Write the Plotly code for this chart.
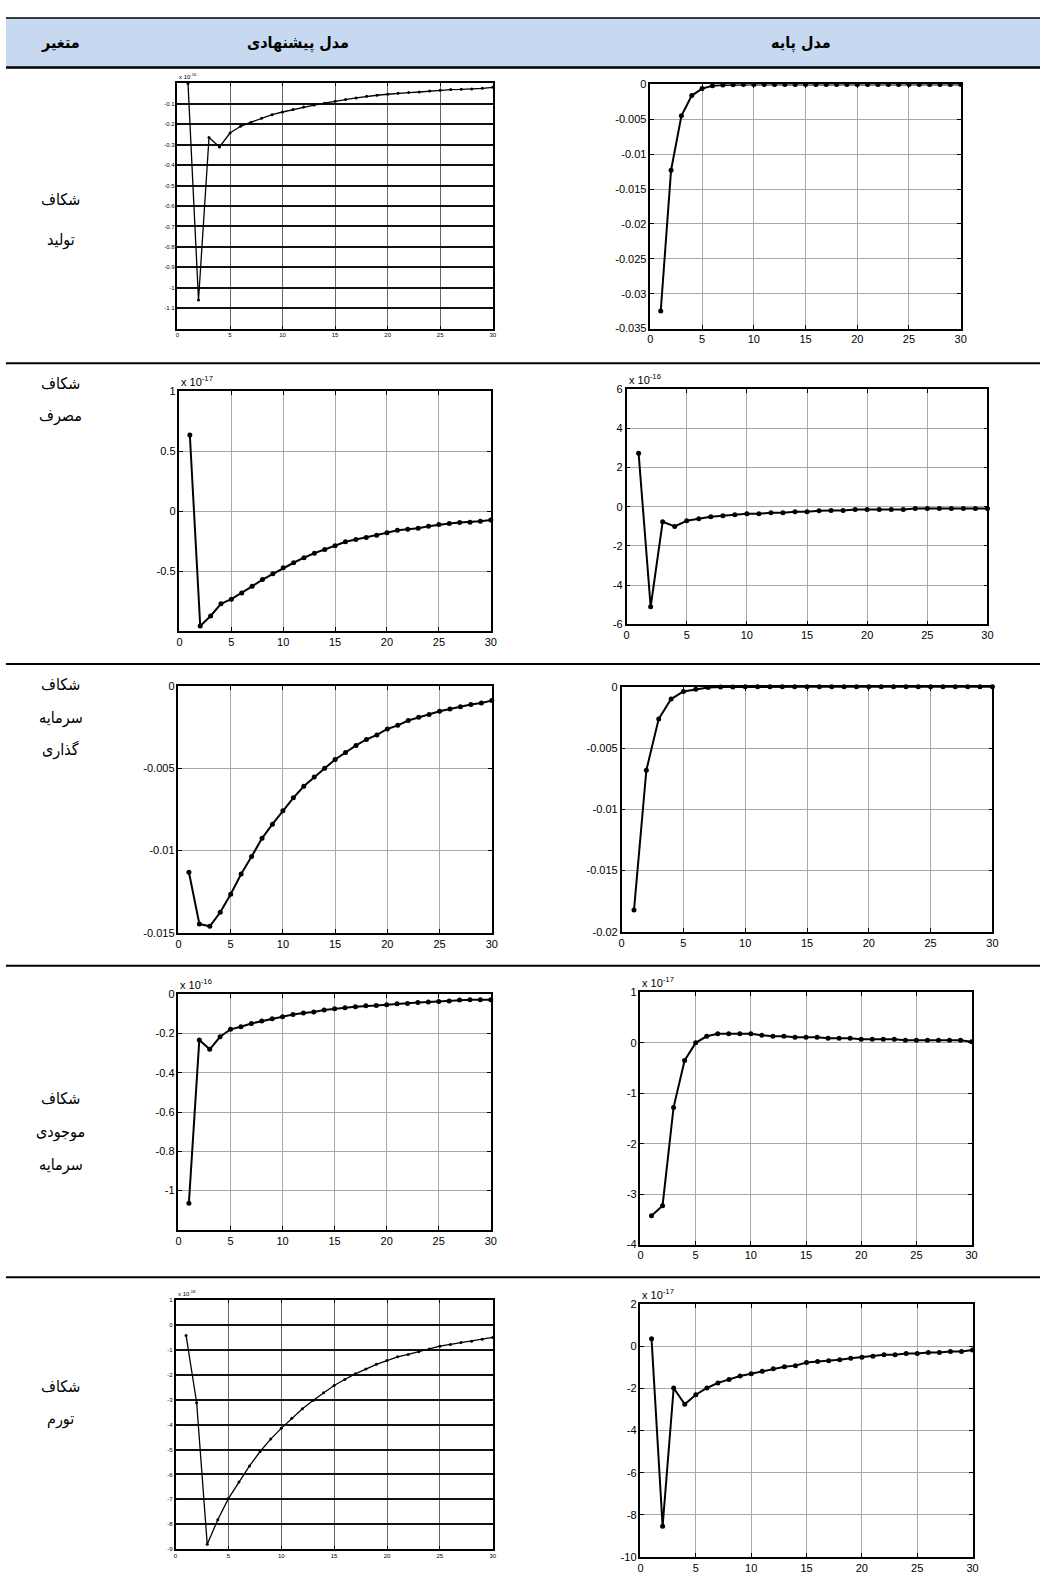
import plotly.graph_objects as go

W, H = 1046, 1577

# ---------------- data ----------------
steps = list(range(1, 31))

header_labels = ["متغیر", "مدل پیشنهادی", "مدل پایه"]
row_labels = [
    ["شکاف", "تولید"],
    ["شکاف", "مصرف"],
    ["شکاف", "سرمایه", "گذاری"],
    ["شکاف", "موجودی", "سرمایه"],
    ["شکاف", "تورم"],
]

output_proposed = [0.0, -1.06, -0.265, -0.311, -0.243, -0.21, -0.19, -0.17, -0.153, -0.14,
                   -0.128, -0.116, -0.106, -0.097, -0.087, -0.079, -0.071, -0.063, -0.058, -0.053,
                   -0.048, -0.045, -0.042, -0.037, -0.034, -0.030, -0.029, -0.027, -0.024, -0.019]
output_base = [-0.0325, -0.0123, -0.0045, -0.0016, -0.0006, -0.0002, -0.0001, -0.00004, -0.00002, -0.00001,
               0.0, 0.0, 0.0, 0.0, 0.0, 0.0, 0.0, 0.0, 0.0, 0.0,
               0.0, 0.0, 0.0, 0.0, 0.0, 0.0, 0.0, 0.0, 0.0, 0.0]
consumption_proposed = [0.634, -0.957, -0.873, -0.772, -0.733, -0.682, -0.626, -0.57, -0.522, -0.472,
                        -0.43, -0.388, -0.35, -0.32, -0.289, -0.255, -0.236, -0.219, -0.2, -0.18,
                        -0.16, -0.151, -0.143, -0.126, -0.112, -0.104, -0.095, -0.092, -0.084, -0.073]
consumption_base = [2.72, -5.11, -0.77, -1.01, -0.72, -0.62, -0.51, -0.46, -0.41, -0.36,
                    -0.36, -0.31, -0.31, -0.26, -0.26, -0.21, -0.2, -0.2, -0.15, -0.15,
                    -0.15, -0.15, -0.15, -0.1, -0.1, -0.1, -0.1, -0.1, -0.1, -0.1]
investment_proposed = [-0.01132, -0.01446, -0.0146, -0.01375, -0.01265, -0.01142, -0.01037, -0.00926, -0.0084, -0.00759,
                       -0.0068, -0.0061, -0.00554, -0.005, -0.00447, -0.00405, -0.00362, -0.00326, -0.00298, -0.00262,
                       -0.0024, -0.00211, -0.00191, -0.00175, -0.00155, -0.00141, -0.00127, -0.00113, -0.00105, -0.0009]
investment_base = [-0.01822, -0.00681, -0.00262, -0.001, -0.00038, -0.0002, -0.00005, -0.00002, -0.00001, 0.0,
                   0.0, 0.0, 0.0, 0.0, 0.0, 0.0, 0.0, 0.0, 0.0, 0.0,
                   0.0, 0.0, 0.0, 0.0, 0.0, 0.0, 0.0, 0.0, 0.0, 0.0]
capital_proposed = [-1.065, -0.233, -0.28, -0.216, -0.178, -0.165, -0.148, -0.136, -0.124, -0.114,
                    -0.102, -0.095, -0.09, -0.08, -0.073, -0.068, -0.063, -0.058, -0.056, -0.053,
                    -0.048, -0.046, -0.041, -0.039, -0.036, -0.034, -0.029, -0.027, -0.027, -0.027]
capital_base = [-3.43, -3.23, -1.28, -0.35, 0.0, 0.13, 0.18, 0.18, 0.18, 0.18,
                0.15, 0.13, 0.13, 0.11, 0.11, 0.11, 0.09, 0.09, 0.09, 0.07,
                0.07, 0.07, 0.07, 0.05, 0.05, 0.05, 0.05, 0.05, 0.05, 0.02]
inflation_proposed = [-0.42, -3.12, -8.8, -7.82, -6.97, -6.3, -5.66, -5.08, -4.58, -4.15,
                      -3.74, -3.36, -3.03, -2.72, -2.43, -2.19, -1.96, -1.77, -1.58, -1.43,
                      -1.28, -1.18, -1.07, -0.96, -0.85, -0.78, -0.70, -0.65, -0.57, -0.50]
inflation_base = [0.35, -8.54, -1.98, -2.75, -2.3, -1.98, -1.74, -1.58, -1.41, -1.31,
                  -1.19, -1.07, -0.97, -0.92, -0.77, -0.72, -0.69, -0.64, -0.57, -0.52,
                  -0.47, -0.4, -0.4, -0.35, -0.35, -0.3, -0.3, -0.25, -0.25, -0.18]

x_ticks = [0, 5, 10, 15, 20, 25, 30]

yt_output_proposed = [-1.1, -1.0, -0.9, -0.8, -0.7, -0.6, -0.5, -0.4, -0.3, -0.2, -0.1]
yl_output_proposed = ["-1.1", "-1", "-0.9", "-0.8", "-0.7", "-0.6", "-0.5", "-0.4", "-0.3", "-0.2", "-0.1"]
yt_output_base = [-0.035, -0.03, -0.025, -0.02, -0.015, -0.01, -0.005, 0]
yl_output_base = ["-0.035", "-0.03", "-0.025", "-0.02", "-0.015", "-0.01", "-0.005", "0"]
yt_cons_proposed = [-0.5, 0, 0.5, 1]
yl_cons_proposed = ["-0.5", "0", "0.5", "1"]
yt_cons_base = [-6, -4, -2, 0, 2, 4, 6]
yl_cons_base = ["-6", "-4", "-2", "0", "2", "4", "6"]
yt_inv_proposed = [-0.015, -0.01, -0.005, 0]
yl_inv_proposed = ["-0.015", "-0.01", "-0.005", "0"]
yt_inv_base = [-0.02, -0.015, -0.01, -0.005, 0]
yl_inv_base = ["-0.02", "-0.015", "-0.01", "-0.005", "0"]
yt_cap_proposed = [-1.0, -0.8, -0.6, -0.4, -0.2, 0]
yl_cap_proposed = ["-1", "-0.8", "-0.6", "-0.4", "-0.2", "0"]
yt_cap_base = [-4, -3, -2, -1, 0, 1]
yl_cap_base = ["-4", "-3", "-2", "-1", "0", "1"]
yt_inf_proposed = [-9, -8, -7, -6, -5, -4, -3, -2, -1, 0, 1]
yl_inf_proposed = ["-9", "-8", "-7", "-6", "-5", "-4", "-3", "-2", "-1", "0", "1"]
yt_inf_base = [-10, -8, -6, -4, -2, 0, 2]
yl_inf_base = ["-10", "-8", "-6", "-4", "-2", "0", "2"]

# ---------------- layout configuration ----------------
# (x0, x1, y0, y1) in pixels, y from top
panels = [
    dict(y=output_proposed, px=(176, 494, 78, 325), yr=(-1.2, 0), tv=yt_output_proposed, tl=yl_output_proposed,
         exp="x 10<sup>-16</sup>", tiny=True),
    dict(y=output_base, px=(653, 966, 79, 325), yr=(-0.035, 0), tv=yt_output_base, tl=yl_output_base,
         exp=None, tiny=False),
    dict(y=consumption_proposed, px=(178, 492, 388, 630), yr=(-1, 1), tv=yt_cons_proposed, tl=yl_cons_proposed,
         exp="x 10<sup>-17</sup>", tiny=False),
    dict(y=consumption_base, px=(629, 993, 386, 623), yr=(-6, 6), tv=yt_cons_base, tl=yl_cons_base,
         exp="x 10<sup>-16</sup>", tiny=False),
    dict(y=investment_proposed, px=(177, 493, 685, 934), yr=(-0.015, 0), tv=yt_inv_proposed, tl=yl_inv_proposed,
         exp=None, tiny=False),
    dict(y=investment_base, px=(624, 998, 686, 933), yr=(-0.02, 0), tv=yt_inv_base, tl=yl_inv_base,
         exp=None, tiny=False),
    dict(y=capital_proposed, px=(177, 492, 996, 1233), yr=(-1.2, 0), tv=yt_cap_proposed, tl=yl_cap_proposed,
         exp="x 10<sup>-16</sup>", tiny=False),
    dict(y=capital_base, px=(643, 977, 994, 1248), yr=(-4, 1), tv=yt_cap_base, tl=yl_cap_base,
         exp="x 10<sup>-17</sup>", tiny=False),
    dict(y=inflation_proposed, px=(174, 494, 1304, 1555), yr=(-9, 1), tv=yt_inf_proposed, tl=yl_inf_proposed,
         exp="x 10<sup>-18</sup>", tiny=True),
    dict(y=inflation_base, px=(643, 978, 1308, 1563), yr=(-10, 2), tv=yt_inf_base, tl=yl_inf_base,
         exp="x 10<sup>-17</sup>", tiny=False),
]

TICK_FONT = "Liberation Sans Narrow, Arial Narrow, Liberation Sans, Arial, sans-serif"
FA_FONT = "DejaVu Sans Condensed, DejaVu Sans, sans-serif"


def px2x(v):
    return v / W


def px2y(v):
    return 1 - v / H


fig = go.Figure()
layout_axes = {}
annotations = []

for i, p in enumerate(panels):
    n = i + 1
    xa = "x" if n == 1 else f"x{n}"
    ya = "y" if n == 1 else f"y{n}"
    x0, x1, y0, y1 = p["px"]
    tiny = p["tiny"]
    fig.add_trace(go.Scatter(
        x=steps, y=p["y"], xaxis=xa, yaxis=ya, mode="lines+markers",
        line=dict(color="black", width=1.3 if tiny else 2),
        marker=dict(color="black", size=3 if tiny else 5, symbol="circle"),
        showlegend=False, hoverinfo="x+y", cliponaxis=False,
    ))
    fsize = 6 if tiny else 11
    hgrid_col = "#111111" if tiny else "#a8a8a8"
    hgrid_w = 1.8 if tiny else 1
    vgrid_col = "#666666" if tiny else "#a8a8a8"
    common = dict(showline=True, linecolor="black", linewidth=1.5, mirror="allticks",
                  ticks="inside", ticklen=3 if tiny else 4, tickcolor="black", tickwidth=1,
                  zeroline=False, tickfont=dict(family=TICK_FONT, size=fsize, color="black"),
                  fixedrange=True)
    layout_axes["xaxis" if n == 1 else f"xaxis{n}"] = dict(
        domain=[px2x(x0), px2x(x1)], anchor=ya, range=[0, 30],
        tickmode="array", tickvals=x_ticks, ticktext=[str(t) for t in x_ticks],
        showgrid=True, gridcolor=vgrid_col, gridwidth=1, **common)
    layout_axes["yaxis" if n == 1 else f"yaxis{n}"] = dict(
        domain=[px2y(y1), px2y(y0)], anchor=xa, range=list(p["yr"]),
        tickmode="array", tickvals=p["tv"], ticktext=p["tl"],
        showgrid=True, gridcolor=hgrid_col, gridwidth=hgrid_w, **common)
    if p["exp"]:
        annotations.append(dict(
            x=px2x(x0), y=px2y(y0), xref="paper", yref="paper", xanchor="left", yanchor="bottom",
            text=p["exp"], showarrow=False, yshift=1,
            font=dict(family=TICK_FONT, size=6 if tiny else 11, color="black")))

# header texts
header_x = [58, 298, 805]
for hx, txt in zip(header_x, header_labels):
    annotations.append(dict(x=px2x(hx), y=px2y(37), xref="paper", yref="paper",
                            text=f"<b>{txt}</b>", showarrow=False, xanchor="center", yanchor="middle",
                            font=dict(family=FA_FONT, size=16, color="black")))

# row labels
row_label_y = [[195, 236], [380, 413], [684, 717, 750], [1101, 1135, 1168], [1391, 1424]]
for labels, ys in zip(row_labels, row_label_y):
    for txt, yy in zip(labels, ys):
        annotations.append(dict(x=px2x(58), y=px2y(yy), xref="paper", yref="paper",
                                text=txt, showarrow=False, xanchor="center", yanchor="middle",
                                font=dict(family=FA_FONT, size=16, color="black")))

shapes = [
    dict(type="rect", xref="paper", yref="paper", x0=px2x(3), x1=1, y0=px2y(62), y1=px2y(12),
         fillcolor="#c6d9f1", line=dict(width=0), layer="below"),
    dict(type="line", xref="paper", yref="paper", x0=px2x(3), x1=1, y0=px2y(12), y1=px2y(12),
         line=dict(color="black", width=1.5)),
    dict(type="line", xref="paper", yref="paper", x0=px2x(3), x1=1, y0=px2y(62), y1=px2y(62),
         line=dict(color="black", width=2.5)),
]
for ly in [360, 663, 967, 1281]:
    shapes.append(dict(type="line", xref="paper", yref="paper", x0=px2x(3), x1=1, y0=px2y(ly), y1=px2y(ly),
                       line=dict(color="black", width=2)))

fig.update_layout(
    width=W, height=H, margin=dict(l=0, r=0, t=0, b=0),
    paper_bgcolor="white", plot_bgcolor="white",
    annotations=annotations, shapes=shapes, showlegend=False,
    **layout_axes,
)

fig.write_html("out.html", config={"displayModeBar": False},
               post_script="document.body.style.margin='0';document.body.style.overflow='hidden';")
